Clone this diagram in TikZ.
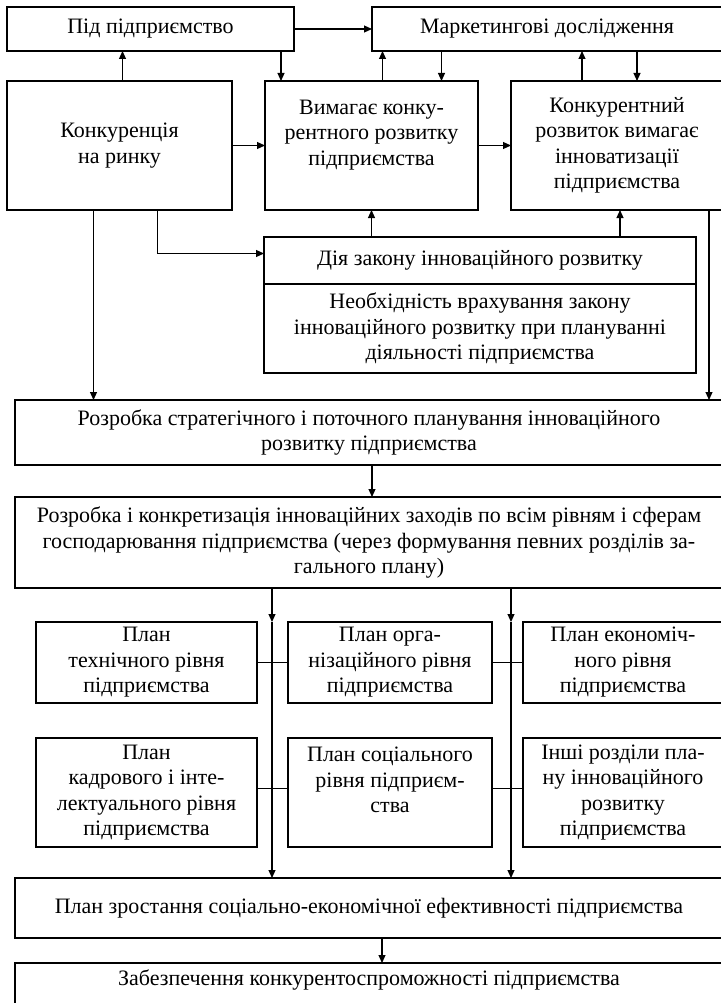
\documentclass[tikz,border=0pt]{standalone}
\usepackage{fontspec}
\setmainfont{Liberation Serif}
\usepackage{tikz}
\usetikzlibrary{arrows.meta,positioning}

\begin{document}
\begin{tikzpicture}[x=1pt,y=-1pt,node distance=33pt,
    >={Triangle[length=8pt,width=7pt]},
    box/.style={draw,line width=1.1pt,outer sep=0pt,inner sep=3pt,align=center,
      font=\fontsize{22}{25.5}\selectfont}]
   \useasboundingbox (0,0) rectangle (720,1003);
   % upper part
   \node[box,minimum width=225pt,minimum height=129pt,anchor=north west] (konk) at (7,81) {Конкуренція\\на ринку};
   \node[box,minimum width=213pt,minimum height=129pt,right=of konk] (vym) {Вимагає конку-\\рентного розвитку\\підприємства\\\mbox{}};
   \node[box,minimum width=212pt,minimum height=129pt,right=of vym] (konkr) {Конкурентний\\розвиток вимагає\\інноватизації\\підприємства};
   \node[box,minimum width=287pt,minimum height=44pt,above=30pt of konk.north west,anchor=south west] (pid) {Під підприємство};
   \node[box,minimum width=350pt,minimum height=44pt,right=78pt of pid] (market) {Маркетингові дослідження};
   \node[box,minimum width=432pt,minimum height=47pt,below=27pt of vym.south west,anchor=north west,xshift=-1pt] (diya) {Дія закону інноваційного розвитку};
   \node[box,minimum width=432pt,minimum height=89pt,below=0pt of diya] (neob) {Необхідність врахування закону\\інноваційного розвитку при плануванні\\діяльності підприємства};
   % planning
   \node[box,minimum width=708pt,minimum height=65pt,anchor=north west] (plan1) at (15,400) {Розробка стратегічного і поточного планування інноваційного\\розвитку підприємства};
   \node[box,minimum width=708pt,minimum height=91pt,below=32pt of plan1] (plan2) {Розробка і конкретизація інноваційних заходів по всім рівням і сферам\\господарювання підприємства (через формування певних розділів за-\\гального плану)};
   \node[box,minimum width=221pt,minimum height=81pt,anchor=north west] (tech) at (36,622) {План\\технічного рівня\\підприємства};
   \node[box,minimum width=204pt,minimum height=81pt,right=31pt of tech] (org) {План орга-\\нізаційного рівня\\підприємства};
   \node[box,minimum width=200pt,minimum height=81pt,right=31pt of org] (econ) {План економіч-\\ного рівня\\підприємства};
   \node[box,minimum width=221pt,minimum height=109pt,below=35pt of tech] (kadr) {План\\кадрового і інте-\\лектуального рівня\\підприємства};
   \node[box,minimum width=204pt,minimum height=109pt,below=35pt of org] (soc) {План соціального\\рівня підприєм-\\ства\\\mbox{}};
   \node[box,minimum width=200pt,minimum height=109pt,below=35pt of econ] (inshi) {Інші розділи пла-\\ну інноваційного\\розвитку\\підприємства};
   \node[box,minimum width=708pt,minimum height=60pt,anchor=north west] (zrost) at (15,878) {План зростання соціально-економічної ефективності підприємства};
   \node[box,minimum width=708pt,minimum height=47pt,text depth=17pt,below=25pt of zrost] (zabezp) {Забезпечення конкурентоспроможності підприємства};
   \coordinate (c1) at ([xshift=15pt]tech.east);
   \coordinate (c2) at ([xshift=19pt]org.east);
   % connectors
   \begin{scope}[line width=1.1pt]
    \draw[->] (pid.east) -- (market.west);
    \draw[->] ([xshift=3pt]konk.north) -- ([xshift=3pt]konk.north |- pid.south);
    \draw[->] ([xshift=16pt]vym.north west |- pid.south) -- ([xshift=16pt]vym.north west);
    \draw[->] ([xshift=11pt]vym.north) -- ([xshift=11pt]vym.north |- market.south);
    \draw[->] ([xshift=70pt]vym.north |- market.south) -- ([xshift=70pt]vym.north);
    \draw[->] ([xshift=-35pt]konkr.north) -- ([xshift=-35pt]konkr.north |- market.south);
    \draw[->] ([xshift=20pt]konkr.north |- market.south) -- ([xshift=20pt]konkr.north);
    \draw[->] (konk) -- (vym);
    \draw[->] (vym) -- (konkr);
    \draw[->] ([xshift=38pt]konk.south) |- ([yshift=7pt]diya.west);
    \draw[->] ([xshift=-26pt]konk.south) -- ([xshift=-26pt]konk.south |- plan1.north);
    \draw[->] (diya.north -| vym.south) -- (vym.south);
    \draw[->] ([xshift=3pt]konkr.south |- diya.north) -- ([xshift=3pt]konkr.south);
    \draw[->] ([xshift=-14pt]konkr.south east) -- ([xshift=-14pt]konkr.south east |- plan1.north);
    \draw[->] ([xshift=3pt]plan1.south) -- ([xshift=3pt]plan2.north);
    \draw[->] (plan2.south -| c1) -- (tech.north -| c1);
    \draw[->] (tech.north -| c1) -- (zrost.north -| c1);
    \draw[->] (plan2.south -| c2) -- (econ.north -| c2);
    \draw[->] (econ.north -| c2) -- (zrost.north -| c2);
    \draw (tech) -- (org);
    \draw (org) -- (econ);
    \draw ([yshift=4pt]kadr.east) -- ([yshift=4pt]soc.west);
    \draw ([yshift=4pt]soc.east) -- ([yshift=4pt]inshi.west);
    \draw[->] ([xshift=13pt]zrost.south) -- ([xshift=13pt]zabezp.north);
   \end{scope}
\end{tikzpicture}
\end{document}
